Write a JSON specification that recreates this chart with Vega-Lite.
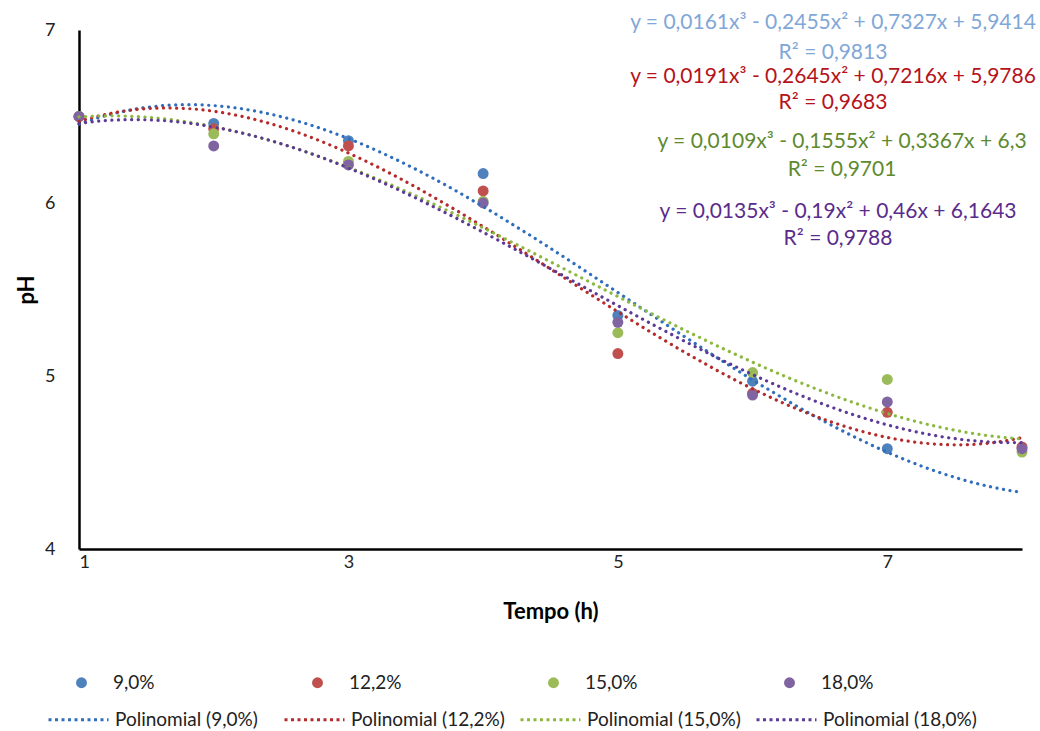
{
  "$schema": "https://vega.github.io/schema/vega-lite/v6.json",
  "width": 943,
  "height": 519,
  "autosize": "none",
  "padding": {"left": 79, "top": 30, "right": 18, "bottom": 182},
  "background": "white",
  "config": {
    "view": {"stroke": null},
    "font": "Lato",
    "axis": {"grid": false, "ticks": false, "domainColor": "#000000", "domainWidth": 2.5, "labelColor": "#222222", "labelFontSize": 18, "labelFont": "Lato", "titleFont": "Lato", "titleFontSize": 22, "titleFontWeight": "bold", "titleColor": "#000000", "format": "d"},
    "legend": {"labelFont": "Lato", "labelFontSize": 19, "labelColor": "#222222", "padding": 0}
  },
  "datasets": {
    "ph": [
      {"tempo": 1, "pH": 6.50, "serie": "9,0%"},
      {"tempo": 2, "pH": 6.46, "serie": "9,0%"},
      {"tempo": 3, "pH": 6.36, "serie": "9,0%"},
      {"tempo": 4, "pH": 6.17, "serie": "9,0%"},
      {"tempo": 5, "pH": 5.35, "serie": "9,0%"},
      {"tempo": 6, "pH": 4.97, "serie": "9,0%"},
      {"tempo": 7, "pH": 4.58, "serie": "9,0%"},
      {"tempo": 1, "pH": 6.50, "serie": "12,2%"},
      {"tempo": 2, "pH": 6.43, "serie": "12,2%"},
      {"tempo": 3, "pH": 6.33, "serie": "12,2%"},
      {"tempo": 4, "pH": 6.07, "serie": "12,2%"},
      {"tempo": 5, "pH": 5.13, "serie": "12,2%"},
      {"tempo": 6, "pH": 4.90, "serie": "12,2%"},
      {"tempo": 7, "pH": 4.79, "serie": "12,2%"},
      {"tempo": 8, "pH": 4.59, "serie": "12,2%"},
      {"tempo": 1, "pH": 6.50, "serie": "15,0%"},
      {"tempo": 2, "pH": 6.40, "serie": "15,0%"},
      {"tempo": 3, "pH": 6.24, "serie": "15,0%"},
      {"tempo": 4, "pH": 6.01, "serie": "15,0%"},
      {"tempo": 5, "pH": 5.25, "serie": "15,0%"},
      {"tempo": 6, "pH": 5.02, "serie": "15,0%"},
      {"tempo": 7, "pH": 4.98, "serie": "15,0%"},
      {"tempo": 8, "pH": 4.56, "serie": "15,0%"},
      {"tempo": 1, "pH": 6.50, "serie": "18,0%"},
      {"tempo": 2, "pH": 6.33, "serie": "18,0%"},
      {"tempo": 3, "pH": 6.22, "serie": "18,0%"},
      {"tempo": 4, "pH": 6.00, "serie": "18,0%"},
      {"tempo": 5, "pH": 5.31, "serie": "18,0%"},
      {"tempo": 6, "pH": 4.89, "serie": "18,0%"},
      {"tempo": 7, "pH": 4.85, "serie": "18,0%"},
      {"tempo": 8, "pH": 4.58, "serie": "18,0%"}
    ],
    "eq": [
      {"serie": "9,0%", "tempo": 6.597, "pH": 7.040, "label": "y = 0,0161x³ - 0,2455x² + 0,7327x + 5,9414"},
      {"serie": "9,0%", "tempo": 6.597, "pH": 6.867, "label": "R² = 0,9813"},
      {"serie": "12,2%", "tempo": 6.597, "pH": 6.728, "label": "y = 0,0191x³ - 0,2645x² + 0,7216x + 5,9786"},
      {"serie": "12,2%", "tempo": 6.597, "pH": 6.578, "label": "R² = 0,9683"},
      {"serie": "15,0%", "tempo": 6.664, "pH": 6.353, "label": "y = 0,0109x³ - 0,1555x² + 0,3367x + 6,3"},
      {"serie": "15,0%", "tempo": 6.664, "pH": 6.191, "label": "R² = 0,9701"},
      {"serie": "18,0%", "tempo": 6.634, "pH": 5.948, "label": "y = 0,0135x³ - 0,19x² + 0,46x + 6,1643"},
      {"serie": "18,0%", "tempo": 6.634, "pH": 5.792, "label": "R² = 0,9788"}
    ]
  },
  "layer": [
    {
      "data": {"name": "ph"},
      "mark": {"type": "point", "filled": true, "size": 120, "opacity": 1},
      "encoding": {
        "x": {"field": "tempo", "type": "quantitative", "scale": {"domain": [1, 8], "nice": false, "zero": false},
              "axis": {"values": [1, 3, 5, 7], "title": "Tempo (h)", "labelPadding": 4, "titlePadding": 30}},
        "y": {"field": "pH", "type": "quantitative", "scale": {"domain": [4, 7], "nice": false, "zero": false},
              "axis": {"values": [4, 5, 6, 7], "title": "pH", "labelPadding": 24, "titlePadding": 6}},
        "color": {"field": "serie", "type": "nominal",
                  "scale": {"domain": ["9,0%", "12,2%", "15,0%", "18,0%"], "range": ["#4f81bd", "#c0504d", "#9bbb59", "#8064a2"]},
                  "legend": {"title": null, "orient": "none", "legendX": -7, "legendY": 643, "direction": "horizontal", "columns": 4, "gridAlign": "all", "columnPadding": 142, "symbolType": "circle", "symbolSize": 120, "labelOffset": 22}}
      }
    },
    {
      "data": {"name": "ph"},
      "transform": [{"regression": "pH", "on": "tempo", "groupby": ["serie"], "method": "poly", "order": 3, "extent": [1, 8]}],
      "mark": {"type": "line", "strokeDash": [0.1, 6.5], "strokeCap": "round", "strokeWidth": 3.2},
      "encoding": {
        "x": {"field": "tempo", "type": "quantitative", "scale": {"domain": [1, 8], "nice": false, "zero": false}},
        "y": {"field": "pH", "type": "quantitative", "scale": {"domain": [4, 7], "nice": false, "zero": false}},
        "color": {"field": "serie", "type": "nominal",
                  "scale": {"domain": ["9,0%", "12,2%", "15,0%", "18,0%"], "range": ["#2f6ebc", "#b52a2a", "#8cb840", "#5d3a95"]},
                  "legend": {"title": null, "orient": "none", "legendX": -32, "legendY": 658, "direction": "horizontal", "columns": 4, "gridAlign": "all", "columnPadding": 9, "symbolType": "stroke", "symbolSize": 3600, "symbolStrokeWidth": 3, "symbolDash": [3, 3.5], "labelOffset": 5, "labelExpr": "'Polinomial (' + datum.label + ')'"}}
      }
    },
    {
      "data": {"name": "eq"},
      "mark": {"type": "text", "align": "center", "baseline": "middle", "fontSize": 21, "font": "Lato"},
      "encoding": {
        "x": {"field": "tempo", "type": "quantitative", "scale": {"domain": [1, 8], "nice": false, "zero": false}},
        "y": {"field": "pH", "type": "quantitative", "scale": {"domain": [4, 7], "nice": false, "zero": false}},
        "text": {"field": "label"},
        "color": {"field": "serie", "type": "nominal",
                  "scale": {"domain": ["9,0%", "12,2%", "15,0%", "18,0%"], "range": ["#7fa7d7", "#b5121b", "#5e8a2e", "#5a2b8c"]},
                  "legend": null}
      }
    }
  ],
  "resolve": {"scale": {"color": "independent"}}
}
